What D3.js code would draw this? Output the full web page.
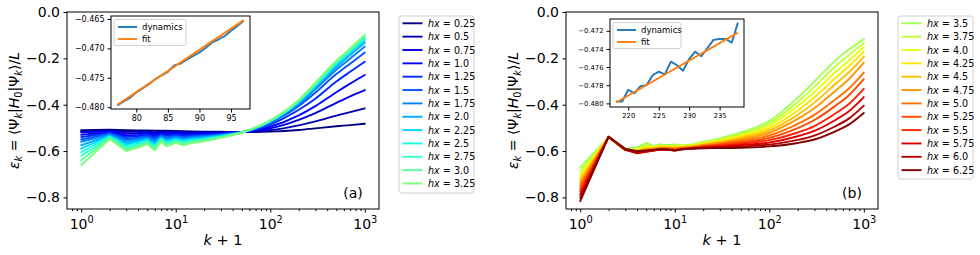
<!DOCTYPE html>
<html>
<head>
<meta charset="utf-8">
<script src="https://cdn.jsdelivr.net/npm/d3@7"></script>
<style>
body { margin: 0; background: #fff; }
text { font-family: "DejaVu Sans", sans-serif; fill: #000; }
</style>
</head>
<body>
<svg id="fig" width="980" height="255"></svg>
<script>
// k+1 sample points
const kGrid = [1, 2, 3, 4, 5, 6, 7, 8, 10, 12, 15, 20, 30, 50, 100, 200, 300, 500, 700, 1000];

// panel (a)
const hxA = [0.25, 0.5, 0.75, 1.0, 1.25, 1.5, 1.75, 2.0, 2.25, 2.5, 2.75, 3.0, 3.25];
const energyA = [
  [-0.510,-0.508,-0.510,-0.511,-0.511,-0.512,-0.512,-0.512,-0.513,-0.514,-0.515,-0.516,-0.517,-0.518,-0.516,-0.509,-0.502,-0.493,-0.488,-0.482],
  [-0.515,-0.511,-0.517,-0.517,-0.516,-0.519,-0.516,-0.517,-0.517,-0.519,-0.519,-0.519,-0.519,-0.518,-0.510,-0.489,-0.472,-0.447,-0.432,-0.416],
  [-0.520,-0.514,-0.524,-0.523,-0.520,-0.526,-0.520,-0.523,-0.521,-0.524,-0.523,-0.523,-0.521,-0.518,-0.502,-0.465,-0.436,-0.392,-0.364,-0.337],
  [-0.530,-0.518,-0.533,-0.530,-0.526,-0.533,-0.524,-0.529,-0.526,-0.529,-0.528,-0.527,-0.524,-0.519,-0.495,-0.446,-0.406,-0.346,-0.309,-0.272],
  [-0.540,-0.521,-0.540,-0.535,-0.530,-0.540,-0.528,-0.534,-0.530,-0.534,-0.532,-0.530,-0.526,-0.519,-0.486,-0.422,-0.374,-0.300,-0.258,-0.215],
  [-0.550,-0.525,-0.548,-0.542,-0.536,-0.548,-0.532,-0.541,-0.535,-0.540,-0.536,-0.534,-0.528,-0.519,-0.479,-0.406,-0.348,-0.268,-0.223,-0.175],
  [-0.560,-0.528,-0.555,-0.548,-0.541,-0.555,-0.536,-0.546,-0.539,-0.545,-0.540,-0.537,-0.530,-0.519,-0.475,-0.398,-0.334,-0.249,-0.201,-0.149],
  [-0.575,-0.532,-0.564,-0.555,-0.546,-0.563,-0.541,-0.553,-0.544,-0.551,-0.545,-0.541,-0.533,-0.519,-0.473,-0.392,-0.326,-0.237,-0.186,-0.132],
  [-0.590,-0.535,-0.571,-0.561,-0.551,-0.570,-0.545,-0.558,-0.548,-0.555,-0.549,-0.545,-0.535,-0.519,-0.472,-0.388,-0.320,-0.228,-0.176,-0.120],
  [-0.605,-0.538,-0.578,-0.567,-0.556,-0.577,-0.548,-0.564,-0.553,-0.560,-0.553,-0.548,-0.537,-0.520,-0.471,-0.386,-0.316,-0.223,-0.170,-0.113],
  [-0.620,-0.542,-0.586,-0.573,-0.561,-0.583,-0.552,-0.569,-0.557,-0.565,-0.557,-0.551,-0.539,-0.520,-0.469,-0.384,-0.313,-0.219,-0.166,-0.108],
  [-0.640,-0.545,-0.593,-0.579,-0.565,-0.590,-0.556,-0.575,-0.561,-0.570,-0.561,-0.555,-0.541,-0.520,-0.468,-0.382,-0.310,-0.216,-0.161,-0.103],
  [-0.660,-0.548,-0.600,-0.585,-0.570,-0.597,-0.560,-0.580,-0.565,-0.575,-0.565,-0.558,-0.543,-0.520,-0.467,-0.380,-0.305,-0.210,-0.157,-0.099]
];

// panel (b)
const hxB = [3.5, 3.75, 4.0, 4.25, 4.5, 4.75, 5.0, 5.25, 5.5, 5.75, 6.0, 6.25];
const energyB = [
  [-0.670,-0.540,-0.590,-0.584,-0.565,-0.580,-0.570,-0.575,-0.572,-0.575,-0.572,-0.560,-0.545,-0.520,-0.470,-0.370,-0.300,-0.209,-0.161,-0.117],
  [-0.685,-0.540,-0.596,-0.590,-0.574,-0.582,-0.574,-0.578,-0.576,-0.577,-0.574,-0.563,-0.549,-0.526,-0.480,-0.388,-0.323,-0.235,-0.185,-0.135],
  [-0.700,-0.540,-0.596,-0.594,-0.580,-0.584,-0.577,-0.580,-0.579,-0.579,-0.576,-0.566,-0.553,-0.532,-0.490,-0.406,-0.345,-0.260,-0.209,-0.152],
  [-0.712,-0.540,-0.596,-0.597,-0.585,-0.586,-0.580,-0.582,-0.582,-0.581,-0.578,-0.569,-0.557,-0.538,-0.501,-0.425,-0.368,-0.285,-0.233,-0.171],
  [-0.725,-0.540,-0.596,-0.600,-0.589,-0.588,-0.583,-0.584,-0.585,-0.583,-0.580,-0.572,-0.561,-0.544,-0.511,-0.443,-0.391,-0.311,-0.259,-0.192],
  [-0.738,-0.540,-0.596,-0.603,-0.593,-0.590,-0.586,-0.586,-0.588,-0.585,-0.582,-0.575,-0.565,-0.550,-0.521,-0.461,-0.415,-0.340,-0.288,-0.218],
  [-0.750,-0.539,-0.594,-0.607,-0.598,-0.594,-0.590,-0.589,-0.591,-0.587,-0.584,-0.578,-0.569,-0.556,-0.533,-0.483,-0.444,-0.377,-0.329,-0.261],
  [-0.762,-0.539,-0.594,-0.609,-0.601,-0.597,-0.592,-0.591,-0.594,-0.589,-0.586,-0.580,-0.573,-0.562,-0.543,-0.501,-0.466,-0.405,-0.358,-0.290],
  [-0.775,-0.539,-0.594,-0.610,-0.603,-0.598,-0.594,-0.593,-0.597,-0.591,-0.588,-0.582,-0.577,-0.568,-0.553,-0.520,-0.492,-0.438,-0.396,-0.332],
  [-0.788,-0.538,-0.594,-0.609,-0.602,-0.598,-0.594,-0.594,-0.598,-0.592,-0.589,-0.584,-0.580,-0.574,-0.563,-0.536,-0.513,-0.466,-0.427,-0.367],
  [-0.802,-0.538,-0.594,-0.606,-0.600,-0.596,-0.593,-0.593,-0.598,-0.592,-0.590,-0.586,-0.584,-0.580,-0.572,-0.552,-0.533,-0.493,-0.459,-0.404],
  [-0.816,-0.538,-0.590,-0.600,-0.597,-0.594,-0.592,-0.592,-0.597,-0.591,-0.589,-0.588,-0.587,-0.586,-0.580,-0.565,-0.550,-0.515,-0.485,-0.436]
];

const mainYTicks = [-0.8, -0.6, -0.4, -0.2, 0.0];
const mainXTicks = [1, 10, 100, 1000];

// inset (a)
const insetAK = [77,78,79,80,81,82,83,84,85,86,87,88,89,90,91,92,93,94,95,96,97];
const insetADyn = [-0.4797,-0.4790,-0.4784,-0.4775,-0.4768,-0.4761,-0.4752,-0.4746,-0.4740,-0.4729,-0.4726,
                   -0.4719,-0.4713,-0.4707,-0.4699,-0.4690,-0.4685,-0.4679,-0.4670,-0.4662,-0.4653];
const insetAFitK = [77, 97];
const insetAFit = [-0.4796, -0.4652];
const insetAXTicks = [80, 85, 90, 95];
const insetAYTicks = [-0.480, -0.475, -0.470, -0.465];

// inset (b)
const insetBK = [218,219,220,221,222,223,224,225,226,227,228,229,230,231,232,233,234,235,236,237,238];
const insetBDyn = [-0.4798,-0.4798,-0.4785,-0.4789,-0.4781,-0.4780,-0.4769,-0.4765,-0.4768,-0.4754,-0.4758,
                   -0.4764,-0.4751,-0.4743,-0.4748,-0.4739,-0.4730,-0.4729,-0.4729,-0.4733,-0.4711];
const insetBFitK = [218, 238];
const insetBFit = [-0.4799, -0.4722];
const insetBXTicks = [220, 225, 230, 235];
const insetBYTicks = [-0.480, -0.478, -0.476, -0.474, -0.472];

// matplotlib jet
const jetR = d3.scaleLinear().domain([0, 0.35, 0.66, 0.89, 1]).range([0, 0, 1, 1, 0.5]).clamp(true);
const jetG = d3.scaleLinear().domain([0, 0.125, 0.375, 0.64, 0.91, 1]).range([0, 0, 1, 1, 0, 0]).clamp(true);
const jetB = d3.scaleLinear().domain([0, 0.11, 0.34, 0.65, 1]).range([0.5, 1, 1, 0, 0]).clamp(true);
const jet = t => d3.rgb(255 * jetR(t), 255 * jetG(t), 255 * jetB(t)).formatHex();

const svg = d3.select('#fig');
const fmtY = d3.format('.1f');
const fmtHx = h => Number.isInteger(h) ? h.toFixed(1) : String(h);

// mathtext-ish helper: segments {t, it, sub, sup}
const richText = (sel, segs, size) => {
  segs.forEach(s => {
    const ts = sel.append('tspan').text(s.t);
    if (s.it) ts.attr('font-style', 'italic');
    if (s.sub) ts.attr('font-size', size * 0.7).attr('dy', size * 0.22);
    if (s.sup) ts.attr('font-size', size * 0.7).attr('dy', -size * 0.42);
    if (s.back) ts.attr('dy', s.back);
  });
};

const drawPanel = p => {
  const x = d3.scaleLog().domain([Math.pow(10, -0.15), Math.pow(10, 3.15)]).range([p.left, p.right]);
  const y = d3.scaleLinear().domain([-0.85, 0]).range([p.bottom, p.top]);
  const g = svg.append('g');

  const clipId = 'clip' + p.name;
  svg.append('clipPath').attr('id', clipId).append('rect')
    .attr('x', p.left).attr('y', p.top).attr('width', p.right - p.left).attr('height', p.bottom - p.top);

  const lineLin = d3.line().x(d => x(d[0])).y(d => y(d[1]));
  const lineSmooth = d3.line().x(d => x(d[0])).y(d => y(d[1])).curve(d3.curveMonotoneX);
  const lines = g.append('g').attr('clip-path', `url(#${clipId})`);
  p.series.forEach((vals, i) => {
    const pts = kGrid.map((k, j) => [k, vals[j]]);
    const col = jet(p.colorIdx(i));
    [[lineLin, pts.filter(d => d[0] <= 20)], [lineSmooth, pts.filter(d => d[0] >= 20)]].forEach(([ln, seg]) => {
      lines.append('path').attr('d', ln(seg)).attr('fill', 'none')
        .attr('stroke', col).attr('stroke-width', 1.9)
        .attr('stroke-linejoin', 'round').attr('stroke-linecap', 'round');
    });
  });

  // axes
  const minor = [];
  [0.1, 1, 10, 100].forEach(b => d3.range(2, 10).forEach(m => {
    const v = b * m;
    if (v > x.domain()[0] && v < x.domain()[1]) minor.push(v);
  }));
  g.append('g').attr('transform', `translate(0,${p.bottom})`)
    .call(d3.axisBottom(x).tickValues(minor).tickFormat('').tickSize(2).tickSizeOuter(0))
    .call(a => a.select('.domain').remove());
  const xa = g.append('g').attr('transform', `translate(0,${p.bottom})`)
    .call(d3.axisBottom(x).tickValues(mainXTicks).tickFormat('').tickSize(3.5).tickSizeOuter(0))
    .call(a => a.select('.domain').remove());
  xa.selectAll('.tick').append('text')
    .attr('y', 20).attr('text-anchor', 'middle').attr('font-size', 14)
    .each(function (d) {
      richText(d3.select(this), [{t: '10'}, {t: String(Math.round(Math.log10(d))), sup: true}], 14);
    });
  const ya = g.append('g').attr('transform', `translate(${p.left},0)`)
    .call(d3.axisLeft(y).tickValues(mainYTicks).tickFormat(fmtY).tickSize(3.5).tickPadding(3.5).tickSizeOuter(0))
    .call(a => a.select('.domain').remove());
  ya.selectAll('text').attr('font-size', 14).attr('font-family', '"DejaVu Sans", sans-serif');
  g.selectAll('.tick line').attr('stroke', '#000');

  g.append('rect').attr('x', p.left).attr('y', p.top)
    .attr('width', p.right - p.left).attr('height', p.bottom - p.top)
    .attr('fill', 'none').attr('stroke', '#000').attr('stroke-width', 1);

  // labels
  const xl = g.append('text').attr('x', (p.left + p.right) / 2).attr('y', 245)
    .attr('text-anchor', 'middle').attr('font-size', 14.5);
  richText(xl, [{t: 'k', it: true}, {t: ' + 1'}], 14.5);

  const yl = g.append('text').attr('transform', `translate(${p.ylabelX},${(p.top + p.bottom) / 2}) rotate(-90)`)
    .attr('text-anchor', 'middle').attr('font-size', 14);
  const d = 14 * 0.22;
  richText(yl, [
    {t: 'ε', it: true}, {t: 'k', it: true, sub: true}, {t: ' = ⟨Ψ', back: -d},
    {t: 'k', it: true, sub: true}, {t: '|', back: -d}, {t: 'H', it: true},
    {t: '0', sub: true}, {t: '|Ψ', back: -d}, {t: 'k', it: true, sub: true},
    {t: '⟩/', back: -d}, {t: 'L', it: true}
  ], 14);

  g.append('text').attr('x', p.right - 26).attr('y', 198)
    .attr('text-anchor', 'middle').attr('font-size', 14).text(p.tag);

  // legend
  const lg = svg.append('g');
  lg.append('rect').attr('x', p.legX).attr('y', p.legTop).attr('width', 75)
    .attr('height', p.legBottom - p.legTop).attr('rx', 2.5)
    .attr('fill', '#fff').attr('stroke', '#d0d0d0').attr('stroke-width', 1);
  p.hxs.forEach((h, i) => {
    const yy = 23.3 + i * 13.35;
    lg.append('line').attr('x1', p.legX + 3.5).attr('x2', p.legX + 23.5)
      .attr('y1', yy).attr('y2', yy).attr('stroke', jet(p.colorIdx(i))).attr('stroke-width', 1.9);
    const t = lg.append('text').attr('x', p.legX + 29).attr('y', yy + 3.5).attr('font-size', 9.6);
    richText(t, [{t: 'hx', it: true}, {t: ' = ' + fmtHx(h)}], 9.6);
  });
};

const drawInset = p => {
  const x = d3.scaleLinear().domain(p.xDomain).range([p.left, p.right]);
  const y = d3.scaleLinear().domain(p.yDomain).range([p.bottom, p.top]);
  const g = svg.append('g');
  g.append('rect').attr('x', p.left).attr('y', p.top)
    .attr('width', p.right - p.left).attr('height', p.bottom - p.top)
    .attr('fill', '#fff');
  const ln = d3.line().x(d => x(d[0])).y(d => y(d[1]));
  g.append('path').attr('d', ln(p.k.map((k, i) => [k, p.dyn[i]])))
    .attr('fill', 'none').attr('stroke', '#1f77b4').attr('stroke-width', 1.9).attr('stroke-linejoin', 'round');
  g.append('path').attr('d', ln(p.fitK.map((k, i) => [k, p.fit[i]])))
    .attr('fill', 'none').attr('stroke', '#ff7f0e').attr('stroke-width', 1.9);

  g.append('g').attr('transform', `translate(0,${p.bottom})`)
    .call(d3.axisBottom(x).tickValues(p.xTicks).tickFormat(d3.format('d')).tickSize(3.5).tickPadding(3).tickSizeOuter(0))
    .call(a => a.select('.domain').remove());
  g.append('g').attr('transform', `translate(${p.left},0)`)
    .call(d3.axisLeft(y).tickValues(p.yTicks).tickFormat(d3.format(p.yFmt)).tickSize(3.5).tickPadding(3).tickSizeOuter(0))
    .call(a => a.select('.domain').remove());
  g.selectAll('.tick text').attr('font-size', p.fs).attr('font-family', '"DejaVu Sans", sans-serif');
  g.selectAll('.tick line').attr('stroke', '#000');
  g.append('rect').attr('x', p.left).attr('y', p.top)
    .attr('width', p.right - p.left).attr('height', p.bottom - p.top)
    .attr('fill', 'none').attr('stroke', '#000').attr('stroke-width', 1);

  // legend
  const lx = p.left + 3, ly = p.top + 3.5;
  g.append('rect').attr('x', lx).attr('y', ly).attr('width', p.legW).attr('height', 26).attr('rx', 2)
    .attr('fill', '#fff').attr('fill-opacity', 0.8).attr('stroke', '#d0d0d0');
  [['dynamics', '#1f77b4'], ['fit', '#ff7f0e']].forEach(([lab, col], i) => {
    const yy = ly + 7.5 + i * 12;
    g.append('line').attr('x1', lx + 4).attr('x2', lx + 23).attr('y1', yy).attr('y2', yy)
      .attr('stroke', col).attr('stroke-width', 1.9);
    g.append('text').attr('x', lx + 28).attr('y', yy + 3).attr('font-size', 8.5).text(lab);
  });
};

drawPanel({
  name: 'a', left: 67, right: 379, top: 12, bottom: 209, ylabelX: 19,
  series: energyA, hxs: hxA, colorIdx: i => i / 24, tag: '(a)',
  legX: 399, legTop: 16, legBottom: 193
});
drawPanel({
  name: 'b', left: 566, right: 878, top: 12, bottom: 209, ylabelX: 518,
  series: energyB, hxs: hxB, colorIdx: i => (13 + i) / 24, tag: '(b)',
  legX: 898, legTop: 16, legBottom: 179
});

drawInset({
  left: 111, right: 250, top: 16, bottom: 109,
  xDomain: [76, 98], yDomain: [-0.4803, -0.4645],
  k: insetAK, dyn: insetADyn, fitK: insetAFitK, fit: insetAFit,
  xTicks: insetAXTicks, yTicks: insetAYTicks, yFmt: '.3f', fs: 8, legW: 72
});
drawInset({
  left: 610, right: 744, top: 19, bottom: 107,
  xDomain: [217, 239], yDomain: [-0.4804, -0.4707],
  k: insetBK, dyn: insetBDyn, fitK: insetBFitK, fit: insetBFit,
  xTicks: insetBXTicks, yTicks: insetBYTicks, yFmt: '.3f', fs: 6.8, legW: 68
});
</script>
</body>
</html>
